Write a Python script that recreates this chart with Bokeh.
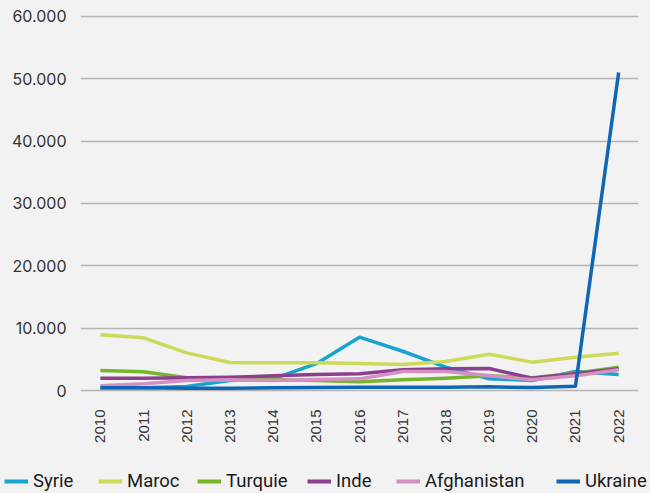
from bokeh.plotting import figure
from bokeh.models import Legend, LegendItem, FixedTicker, Range1d
from bokeh.layouts import column, row
from bokeh.embed import file_html
from bokeh.resources import INLINE
import math

years = list(range(2010, 2023))
syrie = [430, 430, 640, 1600, 1870, 4300, 8560, 6300, 3740, 1870, 1600, 3050, 2570]
maroc = [8930, 8450, 6040, 4490, 4440, 4440, 4330, 4170, 4650, 5830, 4550, 5350, 5990]
turquie = [3210, 3000, 2030, 1870, 1760, 1600, 1390, 1710, 1980, 2350, 2030, 2780, 3740]
inde = [1980, 1980, 2030, 2140, 2350, 2570, 2670, 3320, 3480, 3530, 1980, 2670, 3480]
afghanistan = [750, 1070, 1600, 1710, 1600, 1760, 1870, 3050, 3050, 2400, 1710, 2350, 3320]
ukraine = [430, 430, 370, 370, 430, 480, 530, 530, 530, 590, 480, 700, 51000]

series_names = ["Syrie", "Maroc", "Turquie", "Inde", "Afghanistan", "Ukraine"]
series_values = [syrie, maroc, turquie, inde, afghanistan, ukraine]
colors = ["#1aa3cf", "#cdd958", "#76b52a", "#8c3f8e", "#d490c0", "#0f67b3"]

y_ticks = [0, 10000, 20000, 30000, 40000, 50000, 60000]
y_tick_labels = ["0", "10.000", "20.000", "30.000", "40.000", "50.000", "60.000"]

BG = "#f2f2f2"
p = figure(width=650, height=460, output_backend="svg", toolbar_location=None,
           x_range=Range1d(2009.54, 2022.46), y_range=Range1d(-480, 60640),
           background_fill_color=BG, border_fill_color=BG, outline_line_color=None,
           min_border_left=80, min_border_right=12, min_border_top=12, min_border_bottom=67)

for name, vals, c in zip(series_names, series_values, colors):
    p.line(years, vals, line_color=c, line_width=3.5, line_join="round")

p.xgrid.grid_line_color = None
p.ygrid.grid_line_color = "#b5b5b5"
p.ygrid.grid_line_width = 1.5
p.ygrid.ticker = FixedTicker(ticks=y_ticks)

p.yaxis.ticker = FixedTicker(ticks=y_ticks)
p.yaxis.major_label_overrides = {t: l for t, l in zip(y_ticks, y_tick_labels)}
p.xaxis.ticker = FixedTicker(ticks=years)
p.xaxis.major_label_overrides = {y: str(y) for y in years}
p.xaxis.major_label_orientation = math.pi / 2

for ax in (p.xaxis[0], p.yaxis[0]):
    ax.axis_line_color = None
    ax.major_tick_line_color = None
    ax.minor_tick_line_color = None
    ax.major_label_text_color = "#333333"
p.yaxis.major_label_text_font = "Inter"
p.yaxis.major_label_text_font_size = "16px"
p.yaxis.major_label_standoff = 8
p.xaxis.major_label_text_font = "Liberation Sans"
p.xaxis.major_label_text_font_size = "15px"
p.xaxis.major_label_standoff = 10

# legend strip below the chart (series drawn outside its visible range, only the legend shows)
lg = figure(width=650, height=33, output_backend="svg", toolbar_location=None,
            x_range=Range1d(0, 1), y_range=Range1d(0, 1),
            x_axis_location=None, y_axis_location=None,
            background_fill_color=BG, border_fill_color=BG, outline_line_color=None,
            min_border_left=0, min_border_right=0, min_border_top=0, min_border_bottom=0)
lg.grid.visible = False
legend_x = [4, 98, 197, 307, 396, 556]
for name, vals, c, lx in zip(series_names, series_values, colors, legend_x):
    r = lg.line(years, vals, line_color=c, line_width=4)
    leg = Legend(items=[LegendItem(label=name, renderers=[r])], location=(lx, 1),
                 background_fill_alpha=0, border_line_color=None,
                 label_text_font="Roboto", label_text_font_size="18.5px",
                 label_text_color="#1a1a1a", glyph_width=24, glyph_height=18,
                 padding=0, margin=0, label_standoff=5)
    lg.add_layout(leg, "center")

layout = column(row(p), row(lg), spacing=0)
html = file_html(layout, INLINE)
html = html.replace("<head>", "<head><style>html,body{background:#f2f2f2;}</style>", 1)
open("out.html", "w").write(html)
